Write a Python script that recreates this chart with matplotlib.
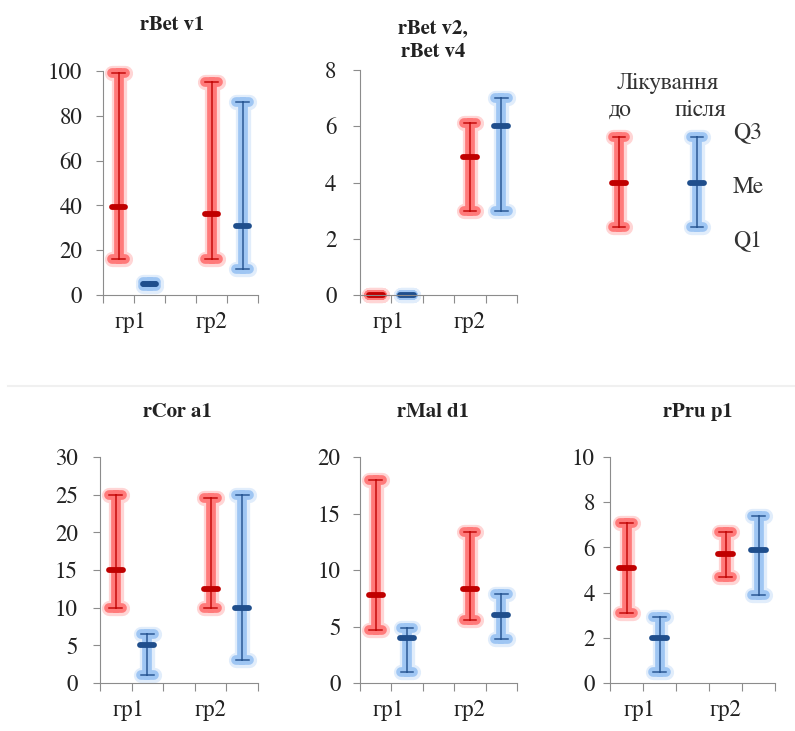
import matplotlib
matplotlib.use("Agg")
import matplotlib.pyplot as plt
import numpy as np

# FreeSerif is a Times-like face that also covers Cyrillic
plt.rcParams["font.family"] = ["FreeSerif", "DejaVu Serif"]

# order of ranges in each panel: до гр1, після гр1, до гр2, після гр2
groups = ["гр1", "гр2"]
treat = ["до", "після"]

rbet_v1_q1 = [16, 4, 16, 11.5]
rbet_v1_me = [39.5, 5, 36, 31]
rbet_v1_q3 = [99, 6, 95, 86]

rbet_v24_q1 = [0, 0, 3, 3]
rbet_v24_me = [0, 0, 4.9, 6]
rbet_v24_q3 = [0, 0, 6.1, 7]

rcor_a1_q1 = [10, 1, 10, 3.1]
rcor_a1_me = [15, 5, 12.5, 10]
rcor_a1_q3 = [25, 6.5, 24.5, 25]

rmal_d1_q1 = [4.7, 1, 5.6, 3.9]
rmal_d1_me = [7.8, 4, 8.3, 6]
rmal_d1_q3 = [18, 4.9, 13.4, 7.9]

rpru_p1_q1 = [3.1, 0.5, 4.7, 3.9]
rpru_p1_me = [5.1, 2, 5.7, 5.9]
rpru_p1_q3 = [7.1, 2.9, 6.7, 7.4]

RED_L, RED_D = "#ff3030", "#c00000"
BLUE_L, BLUE_D = "#6aa6ee", "#1f4e8c"
W, H = 795, 731


def px(x, y):
    return x / W, 1 - y / H


def draw_range(ax, x, q1, me, q3, light, dark, cw=0.2, mw=0.22):
    xs = [x - cw, x + cw, np.nan, x, x, np.nan, x - cw, x + cw]
    ys = [q3, q3, np.nan, q1, q3, np.nan, q1, q1]
    ax.plot(xs, ys, color=light, lw=11, alpha=0.2, solid_capstyle="round",
            solid_joinstyle="round", clip_on=False)
    ax.plot(xs, ys, color=light, lw=7, alpha=0.55, solid_capstyle="round",
            solid_joinstyle="round", clip_on=False)
    ax.plot(xs, ys, color=dark, lw=1.1, alpha=0.9, clip_on=False)
    ax.plot([x - mw, x + mw], [me, me], color=dark, lw=4.2,
            solid_capstyle="round", clip_on=False)


def panel(rect, q1, me, q3, ymax, ystep, ypad, title, title_xy):
    l, t, r, b = rect
    ax = fig.add_axes([l / W, 1 - b / H, (r - l) / W, (b - t) / H])
    pos = [0, 1, 3, 4]
    for i, p in enumerate(pos):
        light, dark = (RED_L, RED_D) if i % 2 == 0 else (BLUE_L, BLUE_D)
        draw_range(ax, p, q1[i], me[i], q3[i], light, dark)
    ax.set_xlim(-0.5, 4.5)
    ax.set_ylim(0, ymax)
    ax.set_yticks(np.arange(0, ymax + ystep / 2, ystep))
    ax.set_xticks(np.arange(-0.5, 5, 1))
    ax.set_xticklabels([])
    ax.set_xticks([0.4, 3.0], labels=groups, minor=True)
    for s in ["top", "right"]:
        ax.spines[s].set_visible(False)
    for s in ["left", "bottom"]:
        ax.spines[s].set_color("#8c8c8c")
    ax.tick_params(axis="y", colors="#8c8c8c", length=5, pad=ypad,
                   labelsize=16.5, labelcolor="#222222")
    ax.tick_params(axis="x", which="major", colors="#8c8c8c", length=6)
    ax.tick_params(axis="x", which="minor", length=0, pad=12,
                   labelsize=16.5, labelcolor="#222222")
    fig.text(*px(*title_xy), title, ha="center", va="center",
             fontsize=15, fontweight="bold", color="#222222", linespacing=1.45)
    return ax


fig = plt.figure(figsize=(7.95, 7.31), dpi=100)

panel((103, 71, 258, 295), rbet_v1_q1, rbet_v1_me, rbet_v1_q3, 100, 20, 10,
      "rBet v1", (172, 25))
panel((360, 70, 517, 295), rbet_v24_q1, rbet_v24_me, rbet_v24_q3, 8, 2, 12,
      "rBet v2,\nrBet v4", (433, 40))
panel((100, 457, 258, 683), rcor_a1_q1, rcor_a1_me, rcor_a1_q3, 30, 5, 11,
      "rCor a1", (177, 412))
panel((360, 457, 517, 683), rmal_d1_q1, rmal_d1_me, rmal_d1_q3, 20, 5, 9,
      "rMal d1", (433, 412))
panel((610, 457, 775, 683), rpru_p1_q1, rpru_p1_me, rpru_p1_q3, 10, 2, 6,
      "rPru p1", (698, 412))

# legend panel, drawn in pixel-like coordinates
lg = fig.add_axes([530 / W, 1 - 280 / H, 265 / W, 220 / H])
lg.set_xlim(530, 795)
lg.set_ylim(280, 60)
lg.axis("off")
draw_range(lg, 619, 227, 183, 137, RED_L, RED_D, cw=6, mw=7)
draw_range(lg, 697, 227, 183, 137, BLUE_L, BLUE_D, cw=6, mw=7)
lg.text(668, 83, "Лікування", ha="center", va="center", fontsize=17, color="#333333")
lg.text(620, 110, treat[0], ha="center", va="center", fontsize=17, color="#333333")
lg.text(700, 110, treat[1], ha="center", va="center", fontsize=17, color="#333333")
for yy, s in [(132, "Q3"), (187, "Me"), (240, "Q1")]:
    lg.text(733, yy, s, ha="left", va="center", fontsize=17, color="#333333")

# faint separator between rows
fig.add_artist(plt.Line2D([8 / W, 1], [1 - 386 / H, 1 - 386 / H],
                          color="#f0f0f0", lw=1.5))

fig.savefig("out.png", dpi=100)
